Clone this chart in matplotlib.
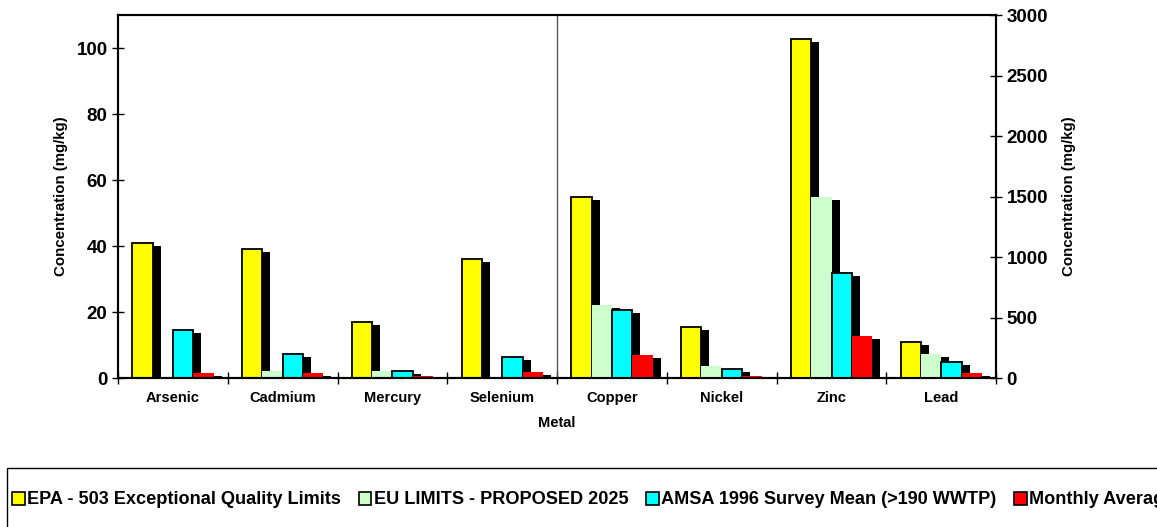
import matplotlib
matplotlib.use('Agg')
import matplotlib.pyplot as plt
import matplotlib.transforms as mtransforms
from matplotlib.patches import Rectangle, Patch
import numpy as np

plt.rcParams['font.family'] = ['Liberation Sans', 'DejaVu Sans']
plt.rcParams['font.weight'] = 'bold'

metals = ['Arsenic', 'Cadmium', 'Mercury', 'Selenium', 'Copper', 'Nickel', 'Zinc', 'Lead']
epa = [41, 39, 17, 36, 1500, 420, 2800, 300]
eu = [0, 2, 2, 0, 600, 100, 1500, 200]
amsa = [14.5, 7.2, 2, 6.4, 565, 76, 870, 130]
monthly = [1.4, 1.4, 0.6, 1.9, 190, 18, 350, 40]

labels = ['EPA - 503 Exceptional Quality Limits', 'EU LIMITS - PROPOSED 2025',
          'AMSA 1996 Survey Mean (>190 WWTP)', 'Monthly Average Biosolids Concentration']
colors = ['#FFFF00', '#CCFFCC', '#00FFFF', '#FF0000']
edges = ['black', 'none', 'black', 'none']
series = [epa, eu, amsa, monthly]

fig = plt.figure(figsize=(11.57, 5.27), dpi=100)
ax = fig.add_axes([0.102, 0.2827, 0.759, 0.6888])
ax2 = ax.twinx()

w = 0.185
x = np.arange(len(metals))
n_left = 4  # first four metals use the left axis, the rest the right one

def draw(a, idx):
    shadow = a.transData + mtransforms.ScaledTranslation(0.08, -0.03, fig.dpi_scale_trans)
    for k, vals in enumerate(series):
        pos = x[idx] + (k - 1.5) * w
        v = np.array(vals)[idx]
        keep = v > 0
        a.bar(pos[keep], v[keep], w, color='black', transform=shadow, zorder=1)
    for k, vals in enumerate(series):
        pos = x[idx] + (k - 1.5) * w
        v = np.array(vals)[idx]
        keep = v > 0
        a.bar(pos[keep], v[keep], w, color=colors[k], edgecolor=edges[k],
              linewidth=1.3, zorder=2)

draw(ax, np.arange(n_left))
draw(ax2, np.arange(n_left, len(metals)))

ax.set_xlim(-0.5, 7.5)
ax.set_ylim(0, 110)
ax2.set_ylim(0, 3000)
ax.set_yticks(range(0, 101, 20))
ax2.set_yticks(range(0, 3001, 500))
ax.axvline(3.5, color='#555555', lw=1, zorder=3)

ax.set_xticks(np.arange(-0.5, 8, 1), minor=False)
ax.set_xticklabels([])
ax.set_xticks(x, minor=True)
ax.set_xticklabels(metals, minor=True, fontsize=10.5, fontweight='bold')
ax.tick_params(axis='x', which='minor', length=0, pad=9)
ax.tick_params(axis='x', which='major', direction='inout', length=8, width=1)
ax.tick_params(axis='y', direction='inout', length=8, width=1, labelsize=13.5)
ax2.tick_params(axis='y', direction='inout', length=8, width=1, labelsize=13.5)

for a in (ax, ax2):
    for s in a.spines.values():
        s.set_linewidth(1.5)

ax.set_xlabel('Metal', fontsize=10.5, fontweight='bold', labelpad=8)
ax.set_ylabel('Concentration (mg/kg)', fontsize=10.8, fontweight='bold', labelpad=6)
ax2.set_ylabel('Concentration (mg/kg)', fontsize=10.8, fontweight='bold', labelpad=10)

# legend box runs off the right and bottom edges
fig.patches.append(Rectangle((7 / 1157, -0.1), 1.2, (527 - 468) / 527 + 0.1,
                             transform=fig.transFigure, fill=False,
                             edgecolor='black', lw=1))
handles = [Patch(facecolor=c, edgecolor='black', lw=1.2) for c in colors]
fig.legend(handles, labels, loc='center left', bbox_to_anchor=(12 / 1157, 27 / 527),
           ncol=4, frameon=False, handlelength=0.7, handleheight=0.7,
           handletextpad=0.15, columnspacing=0.95, borderaxespad=0, borderpad=0,
           prop={'weight': 'bold', 'size': 13.1})

fig.savefig('out.png', dpi=100)
